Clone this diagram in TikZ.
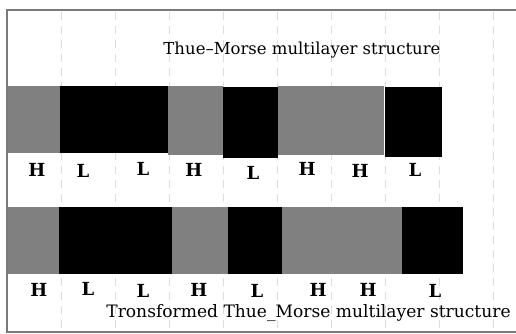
\documentclass[tikz,border=0pt]{standalone}
\usepackage{fontspec}
\setmainfont{DejaVu Serif}
\definecolor{layergray}{HTML}{808080}
\definecolor{gridgray}{HTML}{DDDDDD}
\definecolor{framegray}{HTML}{7A7A7A}
\tikzset{
  layer/.style={draw=none, inner sep=0pt, outer sep=0pt, anchor=north west},
  hi/.style={layer, fill=layergray},
  lo/.style={layer, fill=black},
  lab/.style={font=\bfseries\fontsize{18}{18}\selectfont, inner sep=0pt},
  ttl/.style={font=\fontsize{16.5}{16.5}\selectfont, inner sep=0pt},
  grid line/.style={draw=gridgray, dashed, dash pattern=on 8pt off 6pt, line width=0.8pt},
  frame/.style={draw=framegray, line width=1.6pt}
}
\begin{document}
\begin{tikzpicture}[x=1pt,y=-1pt]
\useasboundingbox (0,0) rectangle (516,334);
% grid
\foreach \gx in {61,115,169,223,277,331,385,439,493}
  \draw[grid line] (\gx,12) -- (\gx,330);
% row 1 layers
\node[hi, minimum width=53pt, minimum height=67pt] (a1) at (7,86) {};
\node[lo, minimum width=54pt, minimum height=67pt] (a2) at (60,86) {};
\node[lo, minimum width=54pt, minimum height=67pt] (a3) at (114,86) {};
\node[hi, minimum width=55pt, minimum height=69pt] (a4) at (168,86) {};
\node[lo, minimum width=55pt, minimum height=71pt] (a5) at (223,87) {};
\node[hi, minimum width=54pt, minimum height=69pt] (a6) at (278,86) {};
\node[hi, minimum width=53pt, minimum height=69pt] (a7) at (331,86) {};
\node[lo, minimum width=57pt, minimum height=70pt] (a8) at (385,87) {};
% row 1 labels
\node[lab] (la1) at (37,170) {H};
\node[lab] (la2) at (83,171) {L};
\node[lab] (la3) at (143,169) {L};
\node[lab] (la4) at (194,170) {H};
\node[lab] (la5) at (253,173) {L};
\node[lab] (la6) at (307,169) {H};
\node[lab] (la7) at (360,171) {H};
\node[lab] (la8) at (415,170) {L};
% title
\node[ttl] (t1) at (302,50) {Thue–Morse multilayer structure};
% row 2 layers
\node[hi, minimum width=52pt, minimum height=67pt] (b1) at (7,207) {};
\node[lo, minimum width=56pt, minimum height=67pt] (b2) at (59,207) {};
\node[lo, minimum width=57pt, minimum height=67pt] (b3) at (115,207) {};
\node[hi, minimum width=56pt, minimum height=67pt] (b4) at (172,207) {};
\node[lo, minimum width=54pt, minimum height=67pt] (b5) at (228,207) {};
\node[hi, minimum width=60pt, minimum height=67pt] (b6) at (282,207) {};
\node[hi, minimum width=60pt, minimum height=67pt] (b7) at (342,207) {};
\node[lo, minimum width=61pt, minimum height=67pt] (b8) at (402,207) {};
% row 2 labels
\node[lab] (lb1) at (39,290) {H};
\node[lab] (lb2) at (88,289) {L};
\node[lab] (lb3) at (143,291) {L};
\node[lab] (lb4) at (199,290) {H};
\node[lab] (lb5) at (257,291) {L};
\node[lab] (lb6) at (318,290) {H};
\node[lab] (lb7) at (368,290) {H};
\node[lab] (lb8) at (435,291) {L};
% bottom title
\node[ttl, font=\fontsize{17.1}{17.1}\selectfont] (t2) at (308.5,313) {Tronsformed Thue\_Morse multilayer structure};
% frame
\draw[frame] (516,10) -- (7,10) -- (7,332) -- (516,332);
\end{tikzpicture}
\end{document}
